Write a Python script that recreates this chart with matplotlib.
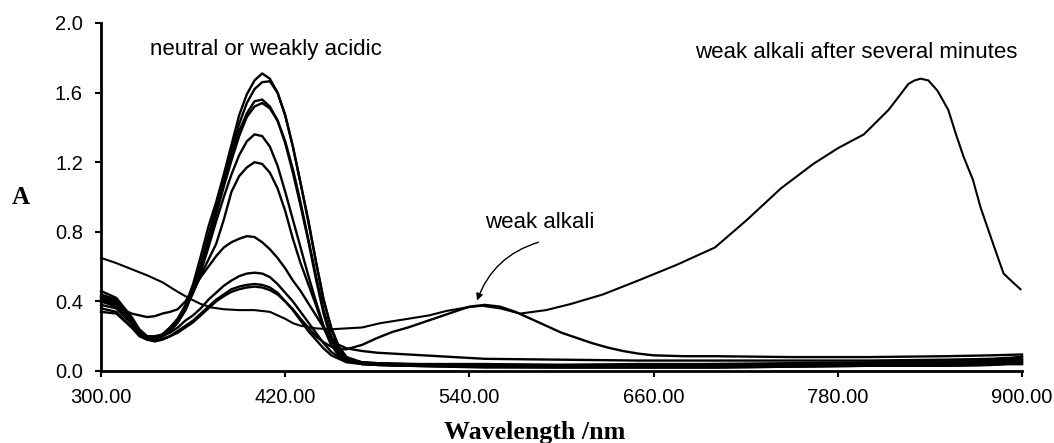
import matplotlib
matplotlib.use("Agg")
import matplotlib.pyplot as plt

# ---------------- data ----------------
wl_acid = [300, 310, 320, 325, 330, 335, 340, 345, 350, 355, 360, 365, 370, 375,
           380, 385, 390, 395, 400, 405, 410, 415, 420, 425, 430, 435, 440, 445,
           450, 455, 460, 470, 480, 500, 550, 600, 650, 700, 750, 800, 850, 880,
           890, 900]

acid_1 = [0.44, 0.41, 0.29, 0.23, 0.20, 0.20, 0.21, 0.25, 0.30, 0.38,
          0.50, 0.66, 0.83, 0.97, 1.13, 1.30, 1.47, 1.59, 1.67, 1.71,
          1.68, 1.60, 1.47, 1.29, 1.08, 0.87, 0.63, 0.41, 0.25, 0.14,
          0.08, 0.05, 0.04, 0.035, 0.03, 0.03, 0.025, 0.025, 0.03, 0.03,
          0.035, 0.04, 0.045, 0.05]
acid_2 = [0.42, 0.40, 0.28, 0.21, 0.18, 0.18, 0.20, 0.23, 0.28, 0.35,
          0.46, 0.61, 0.78, 0.94, 1.10, 1.27, 1.42, 1.54, 1.62, 1.66,
          1.665, 1.60, 1.47, 1.29, 1.08, 0.86, 0.63, 0.41, 0.24, 0.13,
          0.075, 0.045, 0.04, 0.035, 0.035, 0.03, 0.03, 0.035, 0.035, 0.04,
          0.045, 0.05, 0.055, 0.06]
acid_3 = [0.46, 0.42, 0.31, 0.24, 0.20, 0.19, 0.20, 0.23, 0.28, 0.36,
          0.47, 0.61, 0.77, 0.93, 1.09, 1.24, 1.38, 1.48, 1.55, 1.56,
          1.52, 1.44, 1.31, 1.14, 0.95, 0.75, 0.53, 0.33, 0.18, 0.10,
          0.06, 0.04, 0.035, 0.03, 0.02, 0.02, 0.02, 0.02, 0.025, 0.03,
          0.03, 0.035, 0.04, 0.04]
acid_4 = [0.40, 0.38, 0.27, 0.21, 0.19, 0.19, 0.21, 0.24, 0.29, 0.36,
          0.46, 0.59, 0.74, 0.90, 1.06, 1.21, 1.35, 1.46, 1.52, 1.54,
          1.51, 1.44, 1.32, 1.16, 0.97, 0.76, 0.55, 0.35, 0.20, 0.11,
          0.07, 0.05, 0.045, 0.04, 0.04, 0.035, 0.035, 0.04, 0.04, 0.045,
          0.05, 0.06, 0.06, 0.065]
acid_5 = [0.43, 0.40, 0.29, 0.22, 0.19, 0.19, 0.20, 0.23, 0.28, 0.35,
          0.45, 0.57, 0.71, 0.86, 1.00, 1.13, 1.24, 1.32, 1.36, 1.35,
          1.29, 1.18, 1.03, 0.87, 0.71, 0.55, 0.40, 0.26, 0.15, 0.09,
          0.06, 0.04, 0.035, 0.03, 0.025, 0.025, 0.025, 0.03, 0.03, 0.035,
          0.04, 0.045, 0.05, 0.05]
acid_6 = [0.41, 0.39, 0.28, 0.22, 0.19, 0.19, 0.21, 0.25, 0.30, 0.37,
          0.45, 0.55, 0.64, 0.73, 0.87, 1.03, 1.12, 1.17, 1.20, 1.19,
          1.14, 1.05, 0.92, 0.76, 0.62, 0.50, 0.38, 0.25, 0.15, 0.09,
          0.06, 0.045, 0.04, 0.04, 0.035, 0.035, 0.04, 0.04, 0.045, 0.05,
          0.055, 0.06, 0.065, 0.07]
acid_7 = [0.40, 0.37, 0.33, 0.32, 0.31, 0.315, 0.33, 0.34, 0.355, 0.40,
          0.47, 0.54, 0.60, 0.66, 0.71, 0.74, 0.76, 0.775, 0.77, 0.74,
          0.70, 0.65, 0.59, 0.52, 0.46, 0.39, 0.32, 0.25, 0.19, 0.15,
          0.13, 0.115, 0.105, 0.095, 0.07, 0.065, 0.06, 0.06, 0.06, 0.06,
          0.065, 0.07, 0.075, 0.08]
acid_8 = [0.38, 0.36, 0.27, 0.22, 0.20, 0.19, 0.20, 0.22, 0.25, 0.29,
          0.32, 0.36, 0.41, 0.45, 0.49, 0.52, 0.545, 0.56, 0.565, 0.56,
          0.54, 0.50, 0.45, 0.40, 0.34, 0.28, 0.22, 0.16, 0.11, 0.08,
          0.06, 0.05, 0.045, 0.04, 0.035, 0.03, 0.03, 0.035, 0.04, 0.045,
          0.05, 0.055, 0.065, 0.085]
acid_9 = [0.36, 0.34, 0.25, 0.20, 0.18, 0.17, 0.18, 0.20, 0.23, 0.26,
          0.29, 0.33, 0.37, 0.41, 0.44, 0.47, 0.485, 0.495, 0.50, 0.495,
          0.48, 0.45, 0.40, 0.35, 0.29, 0.23, 0.18, 0.13, 0.09, 0.07,
          0.05, 0.04, 0.035, 0.03, 0.025, 0.02, 0.02, 0.02, 0.025, 0.03,
          0.03, 0.035, 0.04, 0.04]

wl_weak = [300, 310, 320, 325, 330, 335, 340, 345, 350, 355, 360, 365, 370, 375,
           380, 385, 390, 395, 400, 405, 410, 415, 420, 425, 430, 435, 440, 445,
           450, 455, 460, 470, 480, 490, 500, 510, 520, 530, 540, 550, 560, 570,
           580, 590, 600, 610, 620, 630, 640, 650, 660, 680, 700, 750, 800, 850,
           880, 900]
weak_alkali = [0.34, 0.33, 0.25, 0.21, 0.19, 0.18, 0.185, 0.20, 0.22, 0.25,
               0.28, 0.32, 0.36, 0.40, 0.43, 0.455, 0.47, 0.48, 0.485, 0.48,
               0.465, 0.44, 0.40, 0.355, 0.30, 0.25, 0.20, 0.165, 0.14, 0.125,
               0.125, 0.15, 0.19, 0.225, 0.25, 0.28, 0.31, 0.34, 0.37, 0.38,
               0.37, 0.34, 0.30, 0.26, 0.22, 0.19, 0.16, 0.135, 0.115, 0.10,
               0.09, 0.085, 0.085, 0.08, 0.08, 0.085, 0.09, 0.095]

wl_later = [300, 310, 320, 330, 340, 350, 357, 365, 372, 380, 390, 400, 410, 415,
            420, 425, 430, 440, 450, 460, 470, 482, 500, 514, 525, 538, 548, 560,
            573, 590, 606, 627, 650, 675, 700, 721, 743, 764, 780, 797, 813, 820,
            826, 830, 834, 839, 845, 852, 857, 862, 868, 873, 882, 888, 894, 899]
weak_alkali_later = [0.65, 0.62, 0.585, 0.55, 0.51, 0.455, 0.42, 0.385, 0.365, 0.355,
                     0.35, 0.35, 0.34, 0.32, 0.30, 0.275, 0.26, 0.245, 0.24, 0.245,
                     0.25, 0.275, 0.30, 0.32, 0.345, 0.365, 0.375, 0.36, 0.33, 0.35,
                     0.385, 0.44, 0.52, 0.61, 0.71, 0.87, 1.05, 1.19, 1.28, 1.36,
                     1.50, 1.58, 1.65, 1.67, 1.68, 1.67, 1.61, 1.50, 1.36, 1.23,
                     1.10, 0.94, 0.71, 0.56, 0.51, 0.47]

x_ticks = [300, 420, 540, 660, 780, 900]
x_ticklabels = ["300.00", "420.00", "540.00", "660.00", "780.00", "900.00"]
y_ticks = [0.0, 0.4, 0.8, 1.2, 1.6, 2.0]
y_ticklabels = ["0.0", "0.4", "0.8", "1.2", "1.6", "2.0"]

# ---------------- figure ----------------
W, H = 1054, 443
fig = plt.figure(figsize=(W / 100, H / 100), dpi=100)
fig.patch.set_facecolor("white")
ax = fig.add_axes([101 / W, 1 - 371 / H, (1022 - 101) / W, (371 - 23) / H])

lw = 1.7
for series in [acid_1, acid_2, acid_3, acid_4, acid_5, acid_6, acid_7, acid_8, acid_9]:
    ax.plot(wl_acid, series, color="black", lw=lw, solid_joinstyle="round")
ax.plot(wl_weak, weak_alkali, color="black", lw=lw, solid_joinstyle="round")
ax.plot(wl_later, weak_alkali_later, color="black", lw=1.5, solid_joinstyle="round")

ax.set_xlim(300, 900)
ax.set_ylim(0, 2.0)
ax.set_xticks(x_ticks)
ax.set_xticklabels(x_ticklabels)
ax.set_yticks(y_ticks)
ax.set_yticklabels(y_ticklabels)

for side in ["top", "right"]:
    ax.spines[side].set_visible(False)
for side in ["left", "bottom"]:
    ax.spines[side].set_linewidth(2.0)
    ax.spines[side].set_color("black")

tick_font = "Liberation Sans"
ax.tick_params(axis="both", direction="out", length=4, width=1.5, colors="black",
               labelsize=14.5)
ax.tick_params(axis="x", pad=8)
ax.tick_params(axis="y", pad=9)
for lab in ax.get_xticklabels() + ax.get_yticklabels():
    lab.set_fontfamily(tick_font)

for ln in ax.get_lines():
    ln.set_clip_on(False)

# texts
ann_font = dict(family="Liberation Sans", fontsize=16, color="black")
fig.text(266 / W, 1 - 50 / H, "neutral or weakly acidic", ha="center", va="center", **ann_font)
fig.text(856 / W, 1 - 53 / H, "weak alkali after several minutes", ha="center", va="center", **ann_font)
fig.text(540 / W, 1 - 222 / H, "weak alkali", ha="center", va="center", **ann_font)

ax.annotate("", xy=(545, 0.405), xytext=(585, 0.74), xycoords="data", textcoords="data",
            arrowprops=dict(arrowstyle="-|>", color="black", lw=1.0,
                            connectionstyle="arc3,rad=0.25", mutation_scale=10,
                            shrinkA=0, shrinkB=0))

fig.text(21 / W, 1 - 197 / H, "A", ha="center", va="center",
         family="Liberation Serif", fontweight="bold", fontsize=18)
fig.text(535 / W, 1 - 432 / H, "Wavelength /nm", ha="center", va="center",
         family="Liberation Serif", fontweight="bold", fontsize=18.7)

fig.savefig("out.png", dpi=100, facecolor="white")
